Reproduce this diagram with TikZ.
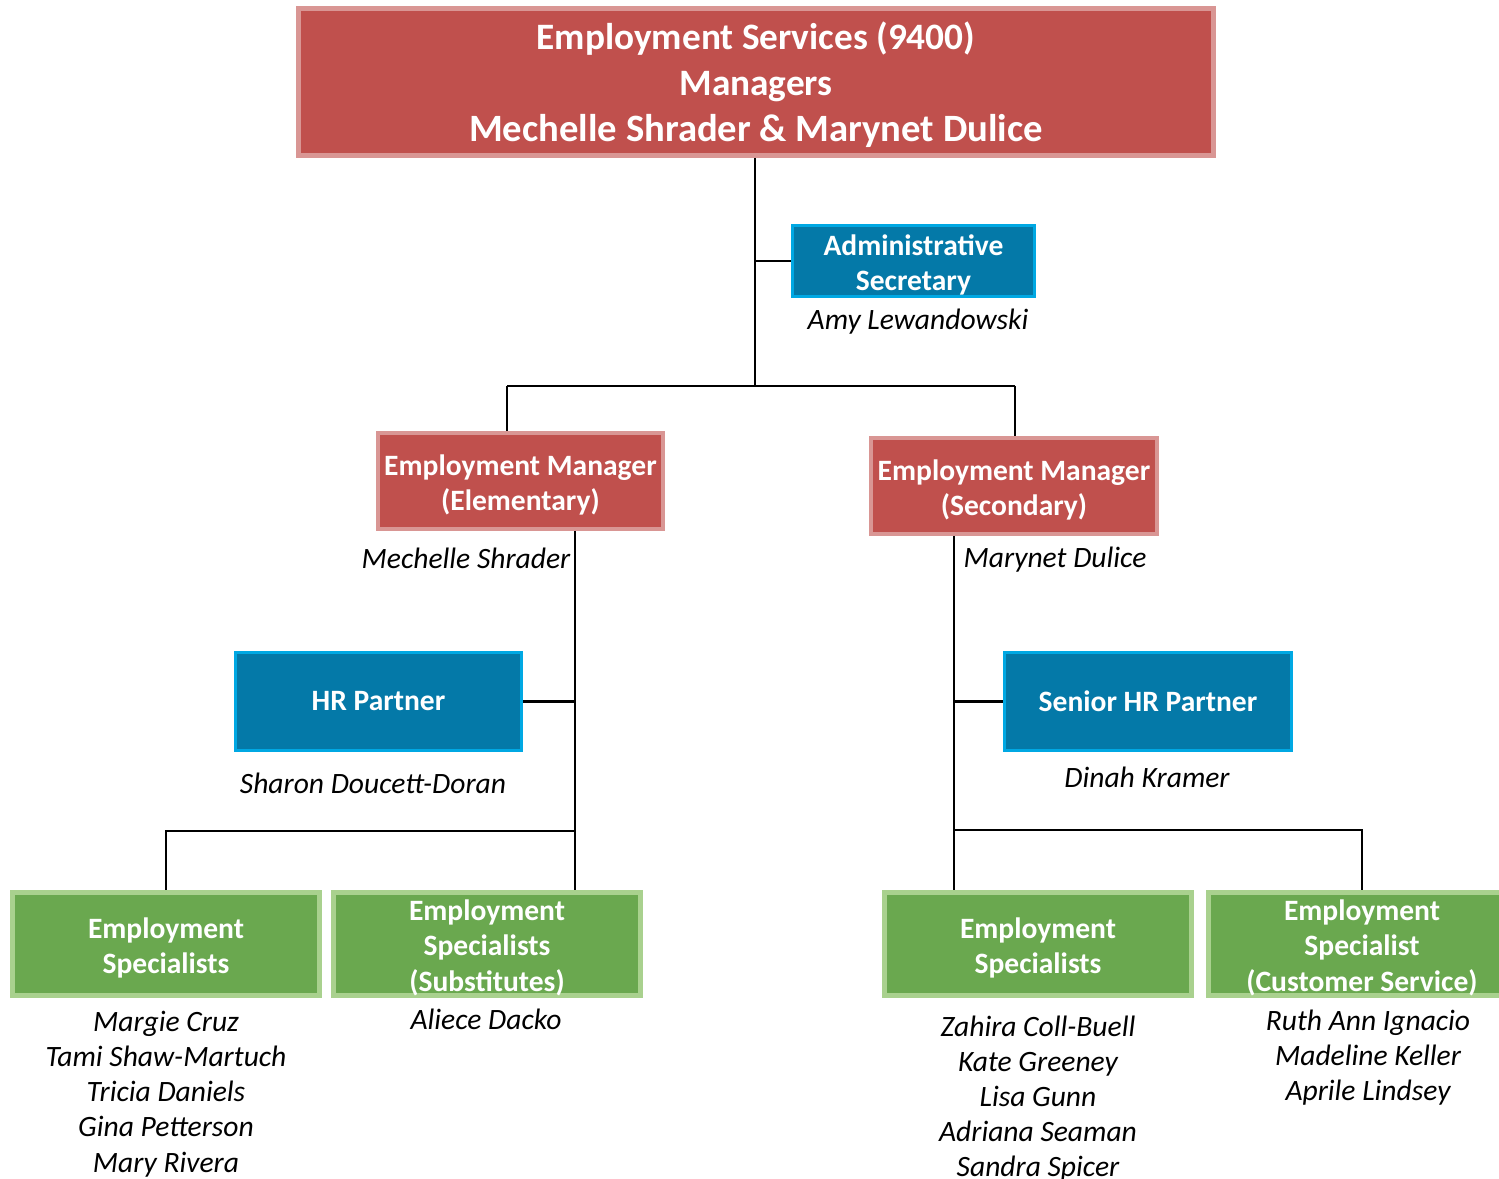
\documentclass[tikz,border=0pt]{standalone}
\usepackage{fontspec}
\setmainfont{Carlito}
\usepackage{tikz}

\definecolor{redbox}{HTML}{C0504D}
\definecolor{redrim}{HTML}{D99694}
\definecolor{bluebox}{HTML}{0479A8}
\definecolor{bluerim}{HTML}{00A8E3}
\definecolor{greenbox}{HTML}{6AA84F}
\definecolor{greenrim}{HTML}{A9D18E}

\begin{document}
\begin{tikzpicture}[x=0.01cm, y=-0.01cm,
    box/.style={inner sep=0pt, align=center, text=white, font=\bfseries\fontsize{8.4}{10}\selectfont},
    redbox/.style={box, fill=redbox, draw=redrim, line width=1.3pt},
    bluebox/.style={box, fill=bluebox, draw=bluerim, line width=0.9pt},
    greenbox/.style={box, fill=greenbox, draw=greenrim, line width=1.2pt, minimum width=3.07cm, minimum height=1.03cm},
    who/.style={inner sep=0pt, align=center, font=\itshape\fontsize{8.4}{10}\selectfont},
    link/.style={line width=0.6pt}]

    \useasboundingbox (0,0) rectangle (1499,1179);
    \clip (0,0) rectangle (1499,1179);

    \node[redbox, minimum width=9.14cm, minimum height=1.47cm, font=\bfseries\fontsize{10.6}{13}\selectfont] (top) at (756,82)
        {\rule{0pt}{9.5pt}Employment Services (9400)\\Managers\\{\fontsize{11}{13}\selectfont Mechelle Shrader \& Marynet Dulice}};

    \node[bluebox, minimum width=2.42cm, minimum height=0.71cm] (adm) at (913.5,261) {\rule{0pt}{8pt}Administrative\\Secretary};
    \node[who] (amy) at (918,322) {Amy Lewandowski};

    \node[redbox, minimum width=2.85cm, minimum height=0.96cm] (emE) at (520.5,481) {\rule{0pt}{8pt}Employment Manager\\(Elementary)};
    \node[who] (mech) at (466,558) {Mechelle Shrader};
    \node[redbox, minimum width=2.86cm, minimum height=0.96cm] (emS) at (1014,486) {\rule{0pt}{8pt}Employment Manager\\(Secondary)};
    \node[who] (mary) at (1055,560) {Marynet Dulice};

    \node[bluebox, minimum width=2.86cm, minimum height=0.98cm] (hr) at (378.5,701.5) {HR Partner};
    \node[who] (sharon) at (373,783) {Sharon Doucett-Doran};
    \node[bluebox, minimum width=2.87cm, minimum height=0.98cm] (shr) at (1148,701.5) {Senior HR Partner};
    \node[who] (dinah) at (1147,777) {Dinah Kramer};

    \node[greenbox] (es1) at (166,944) {\rule{0pt}{8pt}Employment\\Specialists};
    \node[greenbox] (es2) at (487,944) {\rule{0pt}{8pt}Employment\\Specialists\\(Substitutes)};
    \node[greenbox] (es3) at (1038,944) {\rule{0pt}{8pt}Employment\\Specialists};
    \node[greenbox] (es4) at (1362,944) {\rule{0pt}{8pt}Employment\\Specialist\\(Customer Service)};

    \node[who] (es1n) at (166,1094) {Margie Cruz\\Tami Shaw-Martuch\\Tricia Daniels\\Gina Petterson\\Mary Rivera};
    \node[who] (es2n) at (486,1019) {Aliece Dacko};
    \node[who] (es3n) at (1038,1098.5) {Zahira Coll-Buell\\Kate Greeney\\Lisa Gunn\\Adriana Seaman\\Sandra Spicer};
    \node[who] (es4n) at (1368,1057.5) {Ruth Ann Ignacio\\Madeline Keller\\Aprile Lindsey};

    \coordinate (j1) at (755,386);
    \coordinate (jl) at (507,386);
    \coordinate (jr) at (1015,386);
    \coordinate (l1) at (575,531);
    \coordinate (l2) at (575,831);
    \coordinate (r1) at (954,536);
    \coordinate (r2) at (954,830);

    \draw[link] (top.south -| j1) -- (j1);
    \draw[link] (adm.west -| j1) -- (adm.west);
    \draw[link] (jl) -- (jr);
    \draw[link] (jl) -- (emE.north -| jl);
    \draw[link] (jr) -- (emS.north -| jr);

    \draw[link] (l1) -- (es2.north -| l1);
    \draw[link] (hr.east) -- (hr.east -| l1);
    \draw[link] (l2) -| (es1.north);

    \draw[link] (r1) -- (es3.north -| r1);
    \draw[link] (shr.west) -- (shr.west -| r1);
    \draw[link] (r2) -| (es4.north);

\end{tikzpicture}
\end{document}
